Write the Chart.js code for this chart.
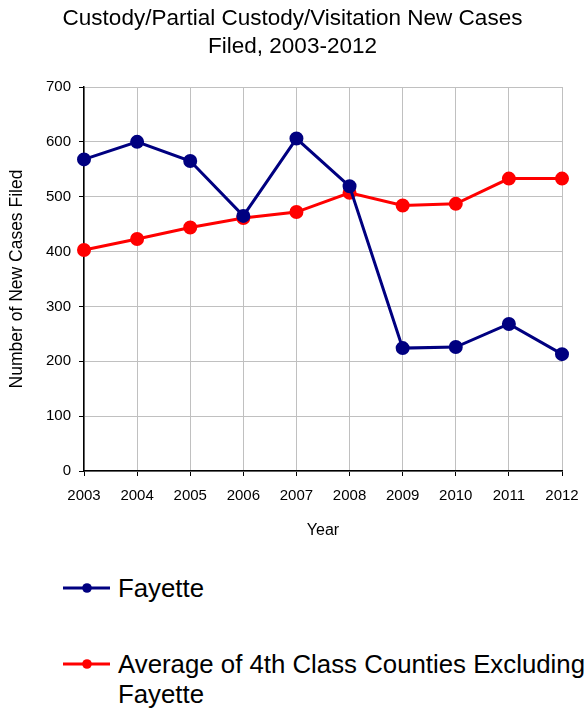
<!DOCTYPE html>
<html>
<head>
<meta charset="utf-8">
<script src="https://cdn.jsdelivr.net/npm/chart.js@4"></script>
<style>
  body { margin: 0; background: #fff; font-family: "Liberation Sans", Arial, sans-serif; overflow: hidden; }
  #wrap { position: relative; width: 585px; height: 710px; overflow: hidden; }
  #custodyChart { position: absolute; left: 0; top: 0; }
  #legend { position: absolute; left: 0; top: 566px; width: 585px; }
  .item { position: relative; height: 76px; }
  .item .swatch { position: absolute; left: 62px; top: 0; width: 50px; height: 44px; }
  .item .label { position: absolute; left: 118px; top: 7px; font-size: 25.8px; line-height: 30px; color: #000; width: 490px; }
</style>
</head>
<body>
<div id="wrap">
  <canvas id="custodyChart" width="585" height="544"></canvas>
  <div id="legend"></div>
</div>
<script>
// data
const years = ['2003', '2004', '2005', '2006', '2007', '2008', '2009', '2010', '2011', '2012'];
const fayette = [568, 600, 565, 465, 606, 519, 224, 226, 268, 213];
const avgOthers = [403, 423, 444, 461, 472, 507, 484, 487, 533, 533];
const seriesNames = ['Fayette', 'Average of 4th Class Counties Excluding Fayette'];
const seriesColors = ['#000080', '#ff0000'];
const yTicks = [0, 100, 200, 300, 400, 500, 600, 700];

const font = "'Liberation Sans', Arial, sans-serif";

document.addEventListener('DOMContentLoaded', function() {
    const ctx = document.getElementById('custodyChart');
    const chart = new Chart(ctx, {
        type: 'line',
        data: {
            labels: years,
            datasets: [fayette, avgOthers].map((vals, i) => ({
                label: seriesNames[i],
                data: vals,
                borderColor: seriesColors[i],
                backgroundColor: seriesColors[i],
                borderWidth: 3,
                pointRadius: 5.5,
                pointHoverRadius: 5.5,
                tension: 0
            }))
        },
        options: {
            responsive: false,
            animation: false,
            layout: { padding: 0 },
            plugins: {
                legend: { display: false },
                tooltip: { enabled: false },
                title: {
                    display: true,
                    text: ['Custody/Partial Custody/Visitation New Cases', 'Filed, 2003-2012'],
                    color: '#000',
                    font: { family: font, size: 22.5, weight: 'normal', lineHeight: 1.25 },
                    padding: { top: 5, bottom: 25.75 }
                }
            },
            scales: {
                x: {
                    offset: false,
                    grid: { color: '#c0c0c0', lineWidth: 1, tickColor: '#000', tickLength: 5 },
                    border: { color: '#000', width: 1.5 },
                    ticks: { color: '#000', font: { family: font, size: 15 }, maxRotation: 0, autoSkip: false, padding: 11 },
                    title: { display: true, text: 'Year', color: '#000', font: { family: font, size: 16 }, padding: { top: 14 } },
                    afterFit: function(axis) {
                        axis.height = 73;
                        axis.paddingLeft = 0;
                        axis.paddingRight = 0;
                    }
                },
                y: {
                    min: 0,
                    max: 700,
                    afterBuildTicks: function(axis) { axis.ticks = yTicks.map(v => ({ value: v })); },
                    grid: { color: '#c0c0c0', lineWidth: 1, tickColor: '#000', tickLength: 5 },
                    border: { color: '#000', width: 1.5 },
                    ticks: { color: '#000', font: { family: font, size: 15 }, padding: 8 },
                    title: { display: true, text: 'Number of New Cases Filed', color: '#000', font: { family: font, size: 17.5 }, padding: { top: 7, bottom: 4 } },
                    afterFit: function(axis) { axis.width = 84; }
                },
                // empty spacer on the right so the plot ends where the original does
                spacer: {
                    position: 'right',
                    display: true,
                    grid: { display: false },
                    border: { display: false },
                    ticks: { display: false },
                    afterFit: function(axis) { axis.width = 23; }
                }
            }
        }
    });

    // Legend built from the datasets so the long label can wrap like the original
    const legend = document.getElementById('legend');
    chart.data.datasets.forEach(ds => {
        const item = document.createElement('div');
        item.className = 'item';
        const sw = document.createElement('canvas');
        sw.className = 'swatch';
        sw.width = 50; sw.height = 44;
        const c = sw.getContext('2d');
        c.strokeStyle = ds.borderColor;
        c.lineWidth = 3;
        c.beginPath(); c.moveTo(1, 22); c.lineTo(48, 22); c.stroke();
        c.fillStyle = ds.backgroundColor;
        c.beginPath(); c.arc(25, 22, 4.8, 0, Math.PI * 2); c.fill();
        const lab = document.createElement('div');
        lab.className = 'label';
        lab.textContent = ds.label;
        item.appendChild(sw);
        item.appendChild(lab);
        legend.appendChild(item);
    });
});
</script>
</body>
</html>
